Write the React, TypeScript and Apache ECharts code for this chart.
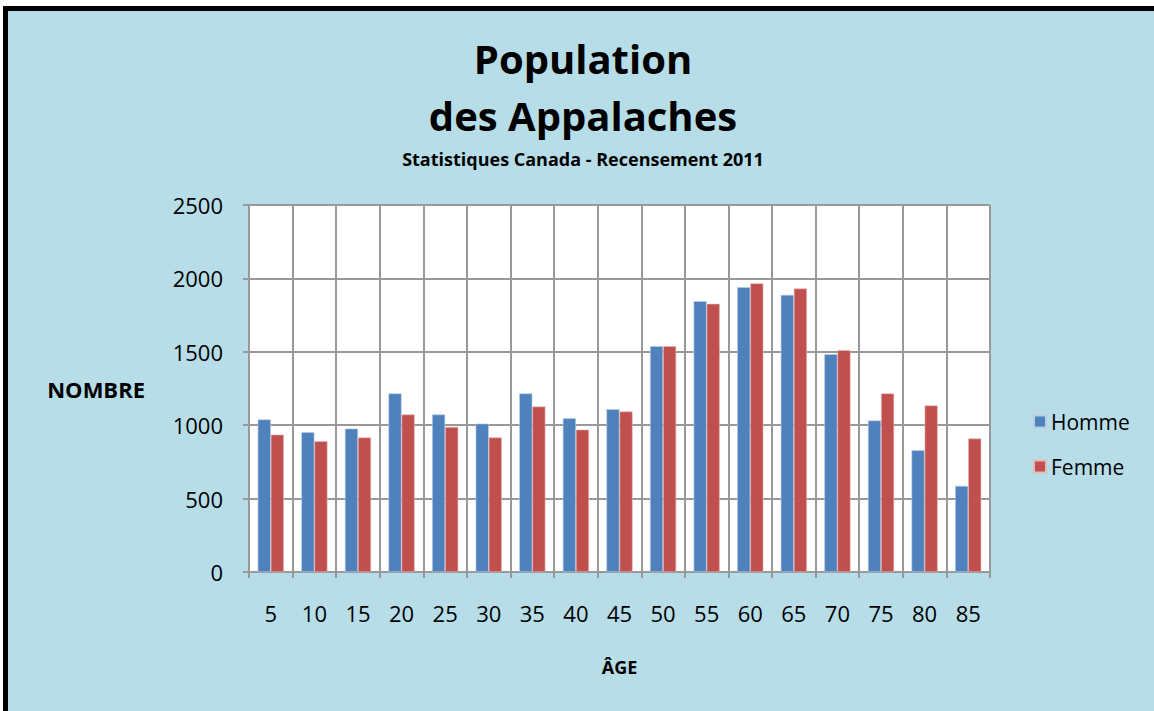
import React, { useEffect, useRef } from "react";
import * as echarts from "echarts";

const ages = ["5", "10", "15", "20", "25", "30", "35", "40", "45", "50", "55", "60", "65", "70", "75", "80", "85"];
const homme = [1039, 952, 977, 1216, 1073, 1011, 1216, 1047, 1109, 1538, 1845, 1940, 1888, 1484, 1032, 829, 586];
const femme = [936, 891, 916, 1073, 988, 916, 1127, 970, 1093, 1538, 1827, 1966, 1931, 1511, 1216, 1134, 909];
const yTicks = { min: 0, max: 2500, interval: 500 };

const FONT = "'Open Sans', 'Noto Sans', sans-serif";

export default function App() {
  const ref = useRef<HTMLDivElement>(null);
  useEffect(() => {
    if (!ref.current) return;
    const chart = echarts.init(ref.current, null, { renderer: "svg" });
    chart.setOption({
      animation: false,
      backgroundColor: "transparent",
      textStyle: { fontFamily: FONT, color: "#000" },
      graphic: [
        {
          type: "text",
          x: 583,
          y: 30,
          style: {
            text: "Population\ndes Appalaches",
            align: "center",
            verticalAlign: "top",
            fontFamily: FONT,
            fontSize: 40,
            fontWeight: "bold",
            lineHeight: 57,
            fill: "#000",
          },
        },
        {
          type: "text",
          x: 583,
          y: 150,
          style: {
            text: "Statistiques Canada - Recensement 2011",
            align: "center",
            verticalAlign: "top",
            fontFamily: FONT,
            fontSize: 18,
            fontWeight: "bold",
            fill: "#000",
          },
        },
      ],
      legend: {
        orient: "vertical",
        left: 1028,
        top: 406,
        itemWidth: 12,
        itemHeight: 12,
        itemGap: 24,
        icon: "rect",
        textStyle: { fontFamily: FONT, fontSize: 21, color: "#000" },
        data: ["Homme", "Femme"],
      },
      grid: {
        left: 249,
        right: 164,
        top: 205,
        bottom: 139,
        show: true,
        backgroundColor: "#ffffff",
        borderColor: "#999999",
        borderWidth: 1,
      },
      xAxis: {
        type: "category",
        data: ages,
        boundaryGap: true,
        name: "ÂGE",
        nameLocation: "middle",
        nameGap: 86,
        nameTextStyle: { fontFamily: FONT, fontSize: 18, fontWeight: "bold", color: "#000" },
        axisLine: { lineStyle: { color: "#999999", width: 2 } },
        axisTick: { show: true, length: 6, lineStyle: { color: "#999999", width: 2 } },
        axisLabel: { margin: 30, fontSize: 22, color: "#000", fontFamily: FONT },
        splitLine: { show: true, lineStyle: { color: "#999999", width: 2 } },
      },
      yAxis: {
        type: "value",
        min: yTicks.min,
        max: yTicks.max,
        interval: yTicks.interval,
        name: "NOMBRE",
        nameLocation: "middle",
        nameGap: 104,
        nameRotate: 0,
        nameTextStyle: { fontFamily: FONT, fontSize: 22, fontWeight: "bold", color: "#000" },
        axisLine: { show: true, lineStyle: { color: "#999999", width: 2 } },
        axisTick: { show: true, length: 6, lineStyle: { color: "#999999", width: 2 } },
        axisLabel: { margin: 26, fontSize: 22, color: "#000", fontFamily: FONT, formatter: (v: number) => String(v) },
        splitLine: { show: true, lineStyle: { color: "#999999", width: 2 } },
      },
      series: [
        {
          name: "Homme",
          type: "bar",
          data: homme,
          barGap: "0%",
          barCategoryGap: "40%",
          itemStyle: { color: "#4f81bd", borderColor: "#b9cde6", borderWidth: 0.6 },
        },
        {
          name: "Femme",
          type: "bar",
          data: femme,
          barGap: "0%",
          barCategoryGap: "40%",
          itemStyle: { color: "#c0504d", borderColor: "#e6b9b8", borderWidth: 0.6 },
        },
      ],
    });
    return () => chart.dispose();
  }, []);
  return (
    <div style={{ position: "fixed", left: 0, top: 0, width: 1154, height: 711, background: "#ffffff" }}>
      <div
        style={{
          position: "absolute",
          left: 3,
          top: 6,
          right: 0,
          bottom: 0,
          background: "#b7dde8",
          boxSizing: "border-box",
          borderTop: "5px solid #000",
          borderLeft: "5px solid #000",
        }}
      />
      <div ref={ref} style={{ position: "absolute", left: 0, top: 0, width: 1154, height: 711 }} />
    </div>
  );
}
